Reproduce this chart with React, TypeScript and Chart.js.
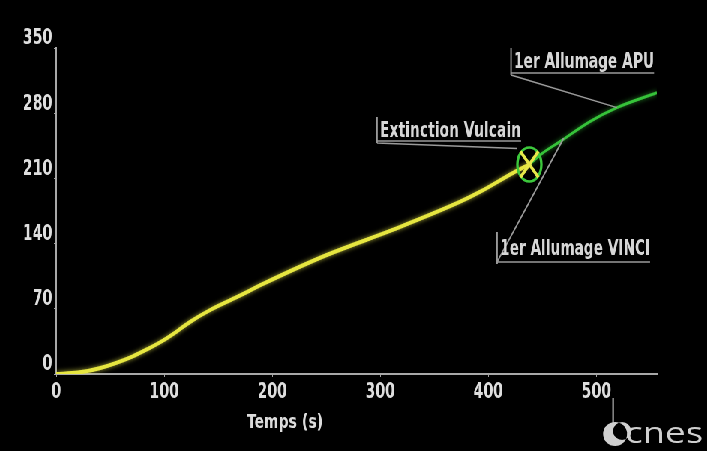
import React, { useEffect, useRef } from 'react';
import { Chart, registerables } from 'chart.js';
Chart.register(...registerables);

// ---- data ----
const yellowTime = [0, 20, 41, 71, 85, 99, 112, 124, 143, 168, 192, 251, 312, 374, 393, 423, 438];
const yellowAlt = [0, 1.5, 6.5, 19, 27, 36, 46, 56, 69, 83, 97, 128, 155, 185, 196, 216, 225];
const greenTime = [438, 450, 467, 494, 519, 556];
const greenAlt = [225, 237, 250, 271, 286, 302];
const xTickValues = [0, 100, 200, 300, 400, 500];
const yTickValues = [0, 70, 140, 210, 280, 350];
const xTitle = 'Temps (s)';
const eventLabels = ['Extinction Vulcain', '1er Allumage APU', '1er Allumage VINCI'];
const eventTimes = [438, 519, 467];
const eventAlts = [225, 286, 250];
const logoText = 'cnes';

// display is condensed horizontally (video still look)
const W = 943;
const H = 451;
const S = 707 / W;

const FONT = "'DejaVu Sans Condensed', 'DejaVu Sans', sans-serif";

function fitText(ctx: CanvasRenderingContext2D, text: string, x: number, baseline: number, width: number, font: string) {
  ctx.save();
  ctx.font = font;
  const w = ctx.measureText(text).width;
  ctx.translate(x, baseline);
  ctx.scale(width / w, 1);
  ctx.textAlign = 'left';
  ctx.textBaseline = 'alphabetic';
  ctx.fillText(text, 0, 0);
  ctx.restore();
}

const overlayPlugin = {
  id: 'overlay',
  beforeDatasetDraw(chart: any, args: any) {
    const ctx = chart.ctx;
    ctx.save();
    ctx.shadowColor = args.index === 0 ? 'rgba(240,240,80,0.7)' : 'rgba(60,220,60,0.6)';
    ctx.shadowBlur = 5;
  },
  afterDatasetDraw(chart: any) {
    chart.ctx.restore();
  },
  afterDraw(chart: any) {
    const ctx: CanvasRenderingContext2D = chart.ctx;
    const xs = chart.scales.x;
    const ys = chart.scales.y;
    const px = (t: number) => xs.getPixelForValue(t) * S;
    const py = (h: number) => ys.getPixelForValue(h);
    ctx.save();
    ctx.scale(1 / S, 1); // draw in display coordinates

    // marker: yellow X in green ellipse at Vulcain cutoff
    const mx = px(eventTimes[0]);
    const my = py(eventAlts[0]);
    ctx.strokeStyle = '#3cc83c';
    ctx.lineWidth = 2.5;
    ctx.beginPath();
    ctx.ellipse(mx, my, 12, 17, 0, 0, Math.PI * 2);
    ctx.stroke();
    ctx.strokeStyle = '#e8e84a';
    ctx.lineWidth = 3;
    ctx.beginPath();
    ctx.moveTo(mx - 9, my - 13);
    ctx.lineTo(mx + 9, my + 13);
    ctx.moveTo(mx + 9, my - 13);
    ctx.lineTo(mx - 9, my + 13);
    ctx.stroke();

    // callouts
    const labelFont = `bold 21px ${FONT}`;
    ctx.fillStyle = '#d6d6d6';
    ctx.strokeStyle = '#9a9a9a';
    ctx.lineWidth = 1.5;

    // Extinction Vulcain
    ctx.beginPath();
    ctx.moveTo(377, 117);
    ctx.lineTo(377, 143);
    ctx.moveTo(377, 141);
    ctx.lineTo(521, 141);
    ctx.moveTo(377, 143);
    ctx.lineTo(mx - 12, my - 16);
    ctx.stroke();
    fitText(ctx, eventLabels[0], 380, 137, 141, labelFont);

    // 1er Allumage APU
    const ax = px(eventTimes[1]);
    const ay = py(eventAlts[1]);
    ctx.beginPath();
    ctx.moveTo(511, 48);
    ctx.lineTo(511, 75);
    ctx.moveTo(511, 73);
    ctx.lineTo(654, 73);
    ctx.moveTo(511, 75);
    ctx.lineTo(ax, ay);
    ctx.stroke();
    fitText(ctx, eventLabels[1], 514, 68, 140, labelFont);

    // 1er Allumage VINCI
    const vx = px(eventTimes[2]);
    const vy = py(eventAlts[2]);
    ctx.beginPath();
    ctx.moveTo(497, 232);
    ctx.lineTo(497, 264);
    ctx.moveTo(497, 262);
    ctx.lineTo(650, 262);
    ctx.moveTo(497, 262);
    ctx.lineTo(vx + 3, vy - 3);
    ctx.stroke();
    fitText(ctx, eventLabels[2], 500, 255, 150, labelFont);

    // x axis title
    ctx.fillStyle = '#dcdcdc';
    fitText(ctx, xTitle, 247, 428, 76, `bold 19px ${FONT}`);

    // cnes logo
    ctx.fillStyle = '#cfcfcf';
    ctx.beginPath();
    ctx.arc(615, 434, 12, 0, Math.PI * 2);
    ctx.arc(622, 431, 9, 0, Math.PI * 2);
    ctx.fill('evenodd');
    ctx.strokeStyle = '#cfcfcf';
    ctx.lineWidth = 1.5;
    ctx.beginPath();
    ctx.moveTo(613, 398);
    ctx.lineTo(613, 424);
    ctx.stroke();
    fitText(ctx, logoText, 625, 443, 78, `30px 'Open Sans', 'DejaVu Sans', sans-serif`);

    ctx.restore();
  },
};

export default function App() {
  const ref = useRef<HTMLCanvasElement | null>(null);

  useEffect(() => {
    document.body.style.margin = '0';
    document.body.style.background = '#000';
    document.body.style.overflow = 'hidden';
    const canvas = ref.current;
    if (!canvas) return;

    const yellowData = yellowTime.map((t, i) => ({ x: t, y: yellowAlt[i] }));
    const greenData = greenTime.map((t, i) => ({ x: t, y: greenAlt[i] }));
    const tickFont = { family: FONT, size: 21, weight: 'bold' };

    const chart = new Chart(canvas, {
      type: 'line',
      data: {
        datasets: [
          {
            data: yellowData,
            borderColor: '#e6e640',
            borderWidth: 4,
            pointRadius: 0,
            cubicInterpolationMode: 'monotone',
            fill: false,
          },
          {
            data: greenData,
            borderColor: '#36c23a',
            borderWidth: 3,
            pointRadius: 0,
            cubicInterpolationMode: 'monotone',
            fill: false,
          },
        ],
      },
      options: {
        responsive: false,
        animation: false,
        devicePixelRatio: 1,
        layout: { padding: { top: 48, right: 67, left: 0, bottom: 0 } },
        plugins: { legend: { display: false }, tooltip: { enabled: false }, title: { display: false } },
        scales: {
          x: {
            type: 'linear',
            min: 0,
            max: 556,
            afterBuildTicks: (s: any) => {
              s.ticks = xTickValues.map((v) => ({ value: v }));
            },
            afterFit: (s: any) => {
              s.height = 77;
            },
            ticks: { color: '#dedede', font: tickFont, padding: 3, maxRotation: 0, autoSkip: false },
            grid: { display: true, drawOnChartArea: false, drawTicks: true, tickLength: 3, color: '#a0a0a0' },
            border: { display: true, color: '#a8a8a8', width: 2 },
          },
          y: {
            type: 'linear',
            min: 0,
            max: 350,
            afterBuildTicks: (s: any) => {
              s.ticks = yTickValues.map((v) => ({ value: v }));
            },
            afterFit: (s: any) => {
              s.width = 75;
            },
            ticks: { color: '#dedede', font: tickFont, padding: 2, labelOffset: -9, autoSkip: false },
            grid: { display: true, drawOnChartArea: false, drawTicks: true, tickLength: 3, color: '#a0a0a0' },
            border: { display: true, color: '#a8a8a8', width: 2 },
          },
        },
      },
      plugins: [overlayPlugin],
    } as any);

    return () => chart.destroy();
  }, []);

  return (
    <div
      style={{
        position: 'fixed',
        left: 0,
        top: 0,
        width: W,
        height: H,
        background: '#000',
        transform: `scaleX(${S})`,
        transformOrigin: '0 0',
      }}
    >
      <canvas ref={ref} width={W} height={H} style={{ width: W, height: H, display: 'block' }} />
    </div>
  );
}
